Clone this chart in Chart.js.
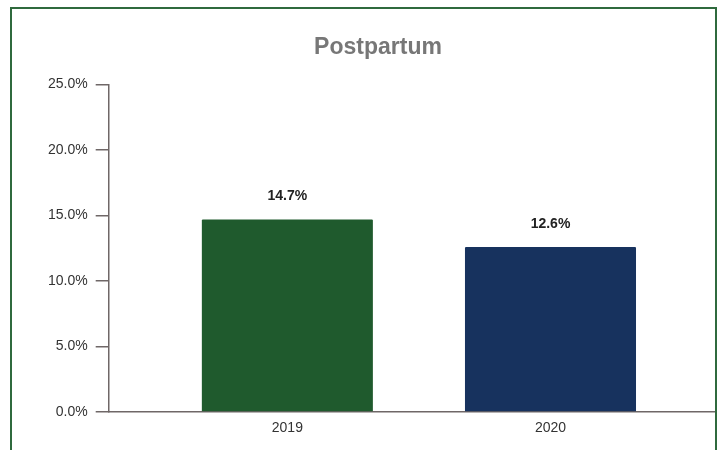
<!DOCTYPE html>
<html>
<head>
<meta charset="utf-8">
<script src="https://cdn.jsdelivr.net/npm/chart.js@4/dist/chart.umd.min.js"></script>
<style>
  html, body { margin: 0; padding: 0; background: #ffffff; }
  #wrap { position: relative; width: 722px; height: 450px; overflow: hidden; }
  #frame {
    position: absolute; left: 10px; top: 7px; width: 707px; height: 470px;
    box-sizing: border-box; border: 2px solid #2f6a3d; pointer-events: none;
  }
  canvas { position: absolute; left: 0; top: 0; }
</style>
</head>
<body>
<div id="wrap">
  <canvas id="chart" width="722" height="450"></canvas>
  <div id="frame"></div>
</div>
<script>
// Postpartum rate by year
const years = [2019, 2020];
const rates = [14.7, 12.6];
const barColors = ['#1f5a2d', '#17325e'];
const yTicks = [0, 5, 10, 15, 20, 25];
const chartTitle = 'Postpartum';

const FONT = "'Liberation Sans', Arial, Helvetica, sans-serif";

// Writes each bar's percentage just above it
const valueLabels = {
  id: 'valueLabels',
  afterDatasetsDraw(chart) {
    const ctx = chart.ctx;
    const meta = chart.getDatasetMeta(0);
    ctx.save();
    ctx.font = 'bold 14px ' + FONT;
    ctx.fillStyle = '#222222';
    ctx.textAlign = 'center';
    ctx.textBaseline = 'middle';
    meta.data.forEach((bar, i) => {
      ctx.fillText(rates[i].toFixed(1) + '%', bar.x, bar.y - 23);
    });
    ctx.restore();
  }
};

new Chart(document.getElementById('chart'), {
  type: 'bar',
  data: {
    datasets: [{
      data: years.map((y, i) => ({ x: y, y: rates[i] })),
      backgroundColor: barColors,
      borderWidth: 0,
      borderRadius: 1,
      categoryPercentage: 0.65,
      barPercentage: 1.0
    }]
  },
  options: {
    responsive: false,
    animation: false,
    layout: { padding: { left: 40, right: 6, top: 0, bottom: 8 } },
    plugins: {
      legend: { display: false },
      tooltip: { enabled: false },
      title: {
        display: true,
        text: chartTitle,
        color: '#777777',
        font: { family: FONT, size: 23, weight: 'bold' },
        padding: { top: 34, bottom: 23 }
      }
    },
    scales: {
      x: {
        type: 'linear',
        offset: false,
        min: 2018.321,
        max: 2020.629,
        grid: { display: false, drawTicks: false },
        border: { display: true, color: '#6f6767', width: 1.5 },
        afterBuildTicks(scale) { scale.ticks = years.map(v => ({ value: v })); },
        afterFit(scale) { scale.height = 30; },
        ticks: {
          color: '#333333',
          font: { family: FONT, size: 14 },
          padding: 8,
          maxRotation: 0,
          callback: v => String(v)
        }
      },
      y: {
        min: 0,
        max: 25,
        afterBuildTicks(scale) { scale.ticks = yTicks.map(v => ({ value: v })); },
        grid: {
          drawOnChartArea: false,
          drawTicks: true,
          tickLength: 13,
          color: '#6f6767',
          lineWidth: 1.5
        },
        border: { display: true, color: '#6f6767', width: 1.5 },
        ticks: {
          color: '#333333',
          font: { family: FONT, size: 14 },
          padding: 8,
          callback: v => v.toFixed(1) + '%'
        }
      }
    }
  },
  plugins: [valueLabels]
});
</script>
</body>
</html>
